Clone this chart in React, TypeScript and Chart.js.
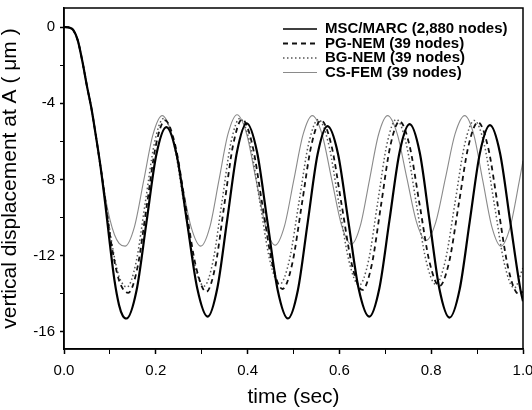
import React, { useEffect, useRef } from "react";
import { Chart, registerables } from "chart.js";

Chart.register(...registerables);

const FONT = "'Liberation Sans', Arial, Helvetica, sans-serif";

// MSC/MARC (2,880 nodes)
const MSC_TIME = [0, 0.01, 0.02, 0.03, 0.04, 0.05, 0.06, 0.07, 0.08, 0.09, 0.1, 0.11, 0.12, 0.128, 0.136, 0.158, 0.1795, 0.201, 0.223, 0.2455, 0.268, 0.2905, 0.313, 0.334, 0.3555, 0.377, 0.398, 0.4205, 0.443, 0.4655, 0.488, 0.5095, 0.531, 0.5525, 0.574, 0.597, 0.6195, 0.642, 0.665, 0.687, 0.709, 0.731, 0.753, 0.775, 0.7965, 0.818, 0.84, 0.862, 0.884, 0.906, 0.928, 0.95, 0.972, 0.994, 1.0];
const MSC_DISP = [0, -0.02, -0.15, -0.7, -1.8, -3.1, -4.3, -5.8, -7.4, -9.3, -11.4, -13.3, -14.6, -15.15, -15.3, -13.83, -10.28, -6.72, -5.25, -6.71, -10.23, -13.74, -15.2, -13.71, -10.13, -6.54, -5.05, -6.55, -10.18, -13.8, -15.3, -13.82, -10.25, -6.68, -5.2, -6.66, -10.2, -13.74, -15.2, -13.72, -10.15, -6.58, -5.1, -6.59, -10.18, -13.76, -15.25, -13.77, -10.2, -6.63, -5.15, -6.62, -10.18, -13.73, -14.4];

// PG-NEM (39 nodes)
const PG_TIME = [0, 0.01, 0.02, 0.03, 0.04, 0.05, 0.06, 0.07, 0.08, 0.09, 0.1, 0.11, 0.12, 0.13, 0.14, 0.16, 0.18, 0.2, 0.22, 0.2425, 0.265, 0.2875, 0.31, 0.3295, 0.349, 0.3685, 0.388, 0.41, 0.432, 0.454, 0.476, 0.497, 0.518, 0.539, 0.56, 0.5825, 0.605, 0.6275, 0.65, 0.6703, 0.6905, 0.7108, 0.731, 0.7528, 0.7745, 0.7963, 0.818, 0.839, 0.86, 0.881, 0.902, 0.924, 0.946, 0.968, 0.99, 1.0];
const PG_DISP = [0, -0.02, -0.15, -0.7, -1.8, -3.1, -4.3, -5.8, -7.4, -9.1, -10.9, -12.3, -13.3, -13.8, -13.95, -12.63, -9.43, -6.23, -4.9, -6.22, -9.4, -12.58, -13.9, -12.58, -9.38, -6.18, -4.85, -6.15, -9.3, -12.45, -13.75, -12.45, -9.33, -6.2, -4.9, -6.2, -9.35, -12.5, -13.8, -12.5, -9.38, -6.25, -4.95, -6.22, -9.28, -12.33, -13.6, -12.34, -9.3, -6.26, -5.0, -6.32, -9.5, -12.68, -14.0, -13.9];

// BG-NEM (39 nodes)
const BG_TIME = [0, 0.01, 0.02, 0.03, 0.04, 0.05, 0.06, 0.07, 0.08, 0.09, 0.1, 0.11, 0.12, 0.13, 0.137, 0.157, 0.177, 0.197, 0.217, 0.239, 0.261, 0.283, 0.305, 0.3245, 0.344, 0.3635, 0.383, 0.4048, 0.4265, 0.4483, 0.47, 0.491, 0.512, 0.533, 0.554, 0.5763, 0.5985, 0.6208, 0.643, 0.6633, 0.6835, 0.7038, 0.724, 0.7455, 0.767, 0.7885, 0.81, 0.831, 0.852, 0.873, 0.894, 0.9158, 0.9375, 0.9593, 0.981, 1.0];
const BG_DISP = [0, -0.02, -0.15, -0.7, -1.8, -3.1, -4.3, -5.8, -7.4, -9.0, -10.7, -12.1, -13.1, -13.55, -13.65, -12.35, -9.23, -6.1, -4.8, -6.09, -9.2, -12.31, -13.6, -12.31, -9.2, -6.09, -4.8, -6.07, -9.15, -12.23, -13.5, -12.23, -9.18, -6.12, -4.85, -6.12, -9.2, -12.28, -13.55, -12.28, -9.2, -6.12, -4.85, -6.12, -9.18, -12.23, -13.5, -12.24, -9.2, -6.16, -4.9, -6.19, -9.3, -12.41, -13.7, -12.64];

// CS-FEM (39 nodes)
const CS_TIME = [0, 0.01, 0.02, 0.03, 0.04, 0.05, 0.06, 0.07, 0.08, 0.09, 0.1, 0.11, 0.12, 0.133, 0.1533, 0.1735, 0.1938, 0.214, 0.235, 0.256, 0.277, 0.298, 0.3178, 0.3375, 0.3573, 0.377, 0.3978, 0.4185, 0.4393, 0.46, 0.4803, 0.5005, 0.5208, 0.541, 0.5623, 0.5835, 0.6048, 0.626, 0.6458, 0.6655, 0.6853, 0.705, 0.726, 0.747, 0.768, 0.789, 0.81, 0.831, 0.852, 0.873, 0.8928, 0.9125, 0.9323, 0.952, 0.972, 0.992, 1.0];
const CS_DISP = [0, -0.02, -0.15, -0.7, -1.8, -3.1, -4.3, -5.8, -7.3, -8.9, -10.1, -10.9, -11.35, -11.5, -10.5, -8.08, -5.65, -4.65, -5.65, -8.08, -10.5, -11.5, -10.49, -8.05, -5.61, -4.6, -5.6, -8.03, -10.45, -11.45, -10.45, -8.05, -5.65, -4.65, -5.64, -8.03, -10.41, -11.4, -10.41, -8.03, -5.64, -4.65, -5.61, -7.93, -10.24, -11.2, -10.24, -7.93, -5.61, -4.65, -5.65, -8.08, -10.5, -11.5, -10.5, -8.08, -7.02];

const SERIES_LABELS = ["MSC/MARC (2,880 nodes)", "PG-NEM (39 nodes)", "BG-NEM (39 nodes)", "CS-FEM (39 nodes)"];

const X_MIN = 0;
const X_MAX = 1.0;
const Y_MIN = -16.9;
const Y_MAX = 1.0;

const X_TITLE = "time (sec)";
const Y_TITLE = "vertical displacement at A ( \u03bcm )";

function toPoints(t: number[], v: number[]) {
  return t.map((x, i) => ({ x, y: v[i] }));
}

const frameAndLegend = {
  id: "frameAndLegend",
  afterDraw(chart: any) {
    const { ctx, chartArea: a } = chart;
    ctx.save();
    ctx.strokeStyle = "#000";
    ctx.lineWidth = 1.5;
    ctx.setLineDash([]);
    ctx.strokeRect(a.left, a.top, a.right - a.left, a.bottom - a.top);

    const x0 = 283;
    const x1 = 317;
    const tx = 325;
    const y0 = 29;
    const dy = 14.5;
    ctx.font = `bold 15px ${FONT}`;
    ctx.textBaseline = "middle";
    ctx.textAlign = "left";
    chart.data.datasets.forEach((ds: any, i: number) => {
      const y = y0 + i * dy;
      ctx.beginPath();
      ctx.setLineDash(ds.borderDash || []);
      ctx.strokeStyle = ds.borderColor;
      ctx.lineWidth = ds.legendLineWidth || ds.borderWidth;
      ctx.moveTo(x0, y);
      ctx.lineTo(x1, y);
      ctx.stroke();
      ctx.setLineDash([]);
      ctx.fillStyle = "#000";
      ctx.fillText(ds.label, tx, y);
    });
    ctx.restore();
  },
};

export default function App() {
  const canvasRef = useRef<HTMLCanvasElement | null>(null);

  useEffect(() => {
    if (!canvasRef.current) return;
    const chart = new Chart(canvasRef.current, {
      type: "line",
      data: {
        datasets: [
          {
            label: SERIES_LABELS[0],
            data: toPoints(MSC_TIME, MSC_DISP),
            borderColor: "#000000",
            borderWidth: 2.2,
            legendLineWidth: 1.6,
          } as any,
          {
            label: SERIES_LABELS[1],
            data: toPoints(PG_TIME, PG_DISP),
            borderColor: "#111111",
            borderWidth: 1.8,
            borderDash: [5, 4],
          } as any,
          {
            label: SERIES_LABELS[2],
            data: toPoints(BG_TIME, BG_DISP),
            borderColor: "#555555",
            borderWidth: 1.5,
            borderDash: [1.5, 2.5],
          } as any,
          {
            label: SERIES_LABELS[3],
            data: toPoints(CS_TIME, CS_DISP),
            borderColor: "#8a8a8a",
            borderWidth: 1.1,
          } as any,
        ],
      },
      options: {
        animation: false,
        responsive: false,
        parsing: false as any,
        normalized: true,
        layout: { padding: { top: 8, right: 9, left: 0, bottom: 0 } },
        elements: {
          point: { radius: 0, hoverRadius: 0 },
          line: { cubicInterpolationMode: "monotone", fill: false },
        },
        plugins: {
          legend: { display: false },
          tooltip: { enabled: false },
        },
        scales: {
          x: {
            type: "linear",
            min: X_MIN,
            max: X_MAX,
            afterFit: (s: any) => {
              s.height = 61;
              s.paddingLeft = 0;
              s.paddingRight = 0;
            },
            ticks: {
              stepSize: 0.1,
              includeBounds: false,
              autoSkip: false,
              maxRotation: 0,
              padding: 8,
              color: "#000",
              font: { family: FONT, size: 15 },
              callback: (value: any) => {
                const k = Math.round(Number(value) * 10);
                return k % 2 === 0 ? (k / 10).toFixed(1) : "";
              },
            },
            grid: {
              drawOnChartArea: false,
              drawTicks: true,
              tickLength: 5,
              tickColor: "#000",
              tickWidth: (c: any) => (Math.round((c.tick?.value ?? 0) * 10) % 2 === 0 ? 1.5 : 1),
            },
            border: { display: true, color: "#000", width: 1.5 },
            title: {
              display: true,
              text: X_TITLE,
              color: "#000",
              font: { family: FONT, size: 21, lineHeight: 1.2 },
              padding: 0,
            },
          },
          y: {
            type: "linear",
            min: Y_MIN,
            max: Y_MAX,
            afterFit: (s: any) => {
              s.width = 64;
              s.paddingTop = 0;
              s.paddingBottom = 0;
            },
            ticks: {
              stepSize: 2,
              includeBounds: false,
              autoSkip: false,
              padding: 5,
              color: "#000",
              font: { family: FONT, size: 15 },
              callback: (value: any) => {
                const k = Math.round(Number(value));
                return k % 4 === 0 ? String(k) : "";
              },
            },
            grid: {
              drawOnChartArea: false,
              drawTicks: true,
              tickLength: 4,
              tickColor: "#000",
              tickWidth: (c: any) => (Math.round(c.tick?.value ?? 0) % 4 === 0 ? 1.5 : 1),
            },
            border: { display: true, color: "#000", width: 1.5 },
            title: {
              display: true,
              text: Y_TITLE,
              color: "#000",
              font: { family: FONT, size: 21, lineHeight: 1.0 },
              padding: 0,
            },
          },
        },
      } as any,
      plugins: [frameAndLegend],
    });
    return () => chart.destroy();
  }, []);

  return (
    <div style={{ position: "absolute", left: 0, top: 0, width: 532, height: 410, background: "#fff" }}>
      <canvas ref={canvasRef} width={532} height={410} style={{ display: "block" }} />
    </div>
  );
}
